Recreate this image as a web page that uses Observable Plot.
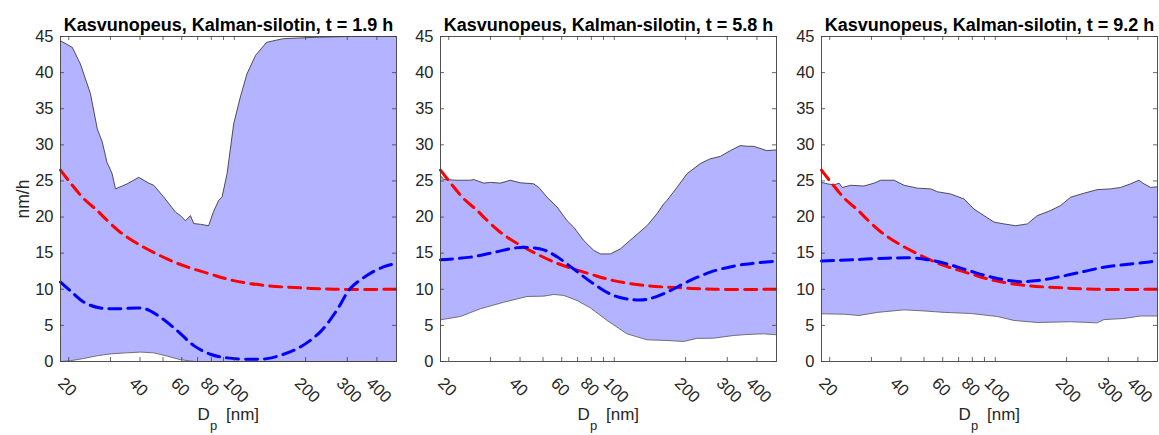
<!DOCTYPE html>
<html><head><meta charset="utf-8">
<script src="https://cdn.jsdelivr.net/npm/d3@7"></script>
<script src="https://cdn.jsdelivr.net/npm/@observablehq/plot@0.6"></script>
<style>
html,body{margin:0;padding:0;background:#fff;}
#chart{position:relative;width:1159px;height:435px;overflow:hidden;}
#chart svg{position:absolute;top:0;}
</style></head><body><div id="chart"></div>
<script>
// ---- data (x = Dp in nm, y = nm/h) ----
const titles = ["Kasvunopeus, Kalman-silotin, t = 1.9 h", "Kasvunopeus, Kalman-silotin, t = 5.8 h", "Kasvunopeus, Kalman-silotin, t = 9.2 h"];
const xDomain = [18.46, 484];
const yDomain = [0, 45];
const yTicks = [0, 5, 10, 15, 20, 25, 30, 35, 40, 45];
const xTicks = [20, 30, 40, 50, 60, 70, 80, 90, 100, 200, 300, 400];
const xTickLabels = [20, 40, 60, 80, 100, 200, 300, 400];
const yLabel = "nm/h";

const redCurve = [[18.46,26.5],[19.7,25.3],[23.2,22.5],[26.4,20.9],[28.1,20.0],[33.0,17.9],[40.1,16.1],[53.7,14.0],[63.2,13.1],[79.2,12.1],[99.4,11.2],[137,10.5],[190,10.2],[263,10.0],[484,10.0]];

const p1Upper = [[18.46,44.4],[20.7,43.5],[22.4,41.2],[24.7,37.1],[26.4,32.2],[27.7,30.4],[29.0,27.6],[30.5,26.0],[31.5,23.9],[35.3,24.6],[39.5,25.5],[43.5,24.7],[45.7,24.4],[50.3,22.8],[56.4,20.7],[59.2,20.2],[62.2,19.5],[65.3,20.2],[67.4,19.1],[71.9,19.0],[77.9,18.8],[81.8,20.8],[85.9,22.3],[88.8,22.8],[93.2,26.0],[99.4,32.9],[106,36.6],[113,39.8],[123,42.4],[137,44.2],[161,44.7],[223,44.9],[300,45],[484,45]];
const p1Lower = [[18.46,0],[20.3,0.1],[23,0.4],[26.4,0.8],[30,1.05],[35,1.2],[40.2,1.3],[45.7,1.2],[52,0.75],[59.2,0.25],[68,0],[484,0]];
const p1Blue = [[18.46,11.0],[20.3,9.8],[23.2,8.2],[27.2,7.4],[32.0,7.3],[40.2,7.4],[42.9,7.2],[48.9,6.1],[57.3,4.3],[67.5,2.2],[79.3,1.0],[93.1,0.5],[116.9,0.3],[137.4,0.4],[161.4,1.0],[189.6,2.0],[230.8,4.1],[271,7.1],[308.7,10.1],[362.6,11.9],[426,13.1],[484,13.6]];

const p2Upper = [[18.46,25.75],[19.05,25.2],[21.7,25.1],[24.7,25.1],[25.5,25.2],[28.1,24.7],[30.0,24.8],[33.0,24.7],[36.4,25.1],[40.1,24.75],[45.7,24.6],[48.0,24.1],[52.0,22.75],[57.3,21.4],[63.2,19.5],[67.4,18.6],[74.3,16.75],[81.8,15.4],[87.3,14.9],[96.3,14.9],[106.1,15.6],[120.7,17.2],[137.4,18.8],[151.4,20.45],[161.5,21.8],[166.9,22.3],[183.9,24.1],[202.7,26.0],[230.7,27.4],[254.2,28.07],[280.3,28.4],[308.9,29.2],[340.4,29.9],[363.1,29.8],[387.4,29.8],[440.6,29.2],[484,29.3]];
const p2Lower = [[18.46,5.77],[22.4,6.23],[27.2,7.3],[34.1,8.2],[42.8,9.0],[50.4,9.05],[55.5,9.28],[61.2,9.15],[69.6,8.45],[79.2,7.43],[93.2,5.68],[113.1,3.83],[137.4,3.0],[166.9,2.91],[196.2,2.77],[223.3,3.2],[262.6,3.23],[319,3.6],[363.1,3.74],[426.7,3.83],[484,3.7]];
const p2Blue = [[18.46,14.08],[24.7,14.45],[31.0,15.1],[37.6,15.7],[42.8,15.8],[50.4,15.45],[57.3,14.5],[67.4,12.8],[81.8,10.75],[99.4,9.14],[120.7,8.54],[137.4,8.6],[166.9,9.6],[202.7,11.0],[254.2,12.37],[319,13.2],[387.4,13.6],[484,13.9]];

const p3Upper = [[18.46,24.8],[19.56,24.6],[20.86,24.45],[21.9,24.7],[22.6,24.1],[24.5,24.4],[27.9,24.3],[30.8,24.7],[32.8,25.1],[37.4,25.1],[41.2,24.4],[46.9,24.0],[53.4,23.9],[57.0,23.5],[64.8,23.2],[73.8,22.5],[81.3,21.1],[89.6,20.2],[98.8,19.3],[108.8,19.05],[121.9,18.8],[136.5,19.05],[150.5,20.2],[171.2,20.9],[188.8,21.6],[208,22.75],[236.8,23.3],[269.6,23.8],[306.9,23.9],[338.1,24.1],[372.6,24.6],[404.1,25.1],[424.2,24.6],[452.8,24.1],[484,24.2]];
const p3Lower = [[18.46,6.6],[23.0,6.55],[26.6,6.37],[31.8,6.8],[41.2,7.15],[50.0,7.0],[60.8,6.8],[78.7,6.65],[102,6.23],[120,5.68],[150.5,5.4],[208,5.5],[269.6,5.35],[287.5,5.8],[349,5.95],[410.6,6.3],[484,6.3]];
const p3Blue = [[18.46,13.9],[25.3,14.1],[35.0,14.3],[43.9,14.35],[51.7,14.1],[62.8,13.5],[78.7,12.5],[98.8,11.6],[123.9,11.07],[150.5,11.2],[188.8,11.77],[236.8,12.46],[287.5,13.06],[349,13.4],[438,13.75],[484,13.95]];

// ---- drawing ----
const bandFill = "#b3b3ff";
const axisColor = "#404040";
const textColor = "#262626";
const X = d => d[0], Y = d => d[1];

function panel({upper, lower, blue, title, left, ml, width, yLab}) {
  const mr = width - ml - 336;
  const plotW = 336, plotH = 325;
  const band = upper.concat(lower.slice().reverse());
  const marks = [
    Plot.line(band, {x: X, y: Y, fill: bandFill, stroke: "none", curve: "linear"}),
    Plot.line(upper, {x: X, y: Y, stroke: "#2a2a2a", strokeWidth: 0.8}),
    Plot.line(lower, {x: X, y: Y, stroke: "#555", strokeWidth: 0.8}),
    Plot.line(redCurve, {x: X, y: Y, stroke: "#ff0000", strokeWidth: 3, strokeDasharray: "12,7", curve: "catmull-rom"}),
    Plot.line(blue, {x: X, y: Y, stroke: "#0000ff", strokeWidth: 3, strokeDasharray: "12,7", curve: "catmull-rom"}),
    Plot.tickY(yTicks, {y: d => d, insetRight: plotW - 4, stroke: axisColor, strokeWidth: 0.8}),
    Plot.tickY(yTicks, {y: d => d, insetLeft: plotW - 4, stroke: axisColor, strokeWidth: 0.8}),
    Plot.tickX(xTicks, {x: d => d, insetTop: plotH - 4, stroke: axisColor, strokeWidth: 0.8}),
    Plot.tickX(xTicks, {x: d => d, insetBottom: plotH - 4, stroke: axisColor, strokeWidth: 0.8}),
    Plot.frame({stroke: axisColor, strokeWidth: 0.9}),
    Plot.text(yTicks, {y: d => d, text: d => String(d), frameAnchor: "left", textAnchor: "end", dx: -7, fontSize: 16.5, fill: textColor}),
    Plot.text(xTickLabels, {x: d => d, text: d => String(d), frameAnchor: "bottom", rotate: 45, textAnchor: "start", lineAnchor: "middle", dx: -8, dy: 19, fontSize: 16.5, fill: textColor}),
    Plot.text([title], {text: d => d, frameAnchor: "top", lineAnchor: "bottom", dy: -6, fontWeight: "bold", fontSize: 18, fill: "#000"}),
    Plot.text(["D"], {text: d => d, frameAnchor: "bottom", textAnchor: "start", lineAnchor: "bottom", dx: -31, dy: 58, fontSize: 17, fill: textColor}),
    Plot.text(["p"], {text: d => d, frameAnchor: "bottom", textAnchor: "start", lineAnchor: "bottom", dx: -18.5, dy: 68, fontSize: 13, fill: textColor}),
    Plot.text(["[nm]"], {text: d => d, frameAnchor: "bottom", textAnchor: "start", lineAnchor: "bottom", dx: -2.5, dy: 58, fontSize: 17, fill: textColor})
  ];
  if (yLab) marks.push(Plot.text([yLab], {text: d => d, frameAnchor: "left", rotate: -90, textAnchor: "middle", lineAnchor: "bottom", dx: -31.5, fontSize: 17.5, fill: textColor}));
  const svg = Plot.plot({
    width, height: 435,
    marginTop: 36, marginBottom: 74, marginLeft: ml, marginRight: mr,
    x: {type: "log", domain: xDomain, axis: null},
    y: {domain: yDomain, axis: null},
    style: {fontFamily: "'Liberation Sans', Arial, sans-serif", fontSize: "16px", color: textColor, background: "transparent", overflow: "visible"},
    marks
  });
  svg.style.left = left + "px";
  document.getElementById("chart").appendChild(svg);
}

panel({upper: p1Upper, lower: p1Lower, blue: p1Blue, title: titles[0], left: 0, ml: 60, width: 400, yLab: yLabel});
panel({upper: p2Upper, lower: p2Lower, blue: p2Blue, title: titles[1], left: 400, ml: 40, width: 380});
panel({upper: p3Upper, lower: p3Lower, blue: p3Blue, title: titles[2], left: 780, ml: 41, width: 379});
</script></body></html>
